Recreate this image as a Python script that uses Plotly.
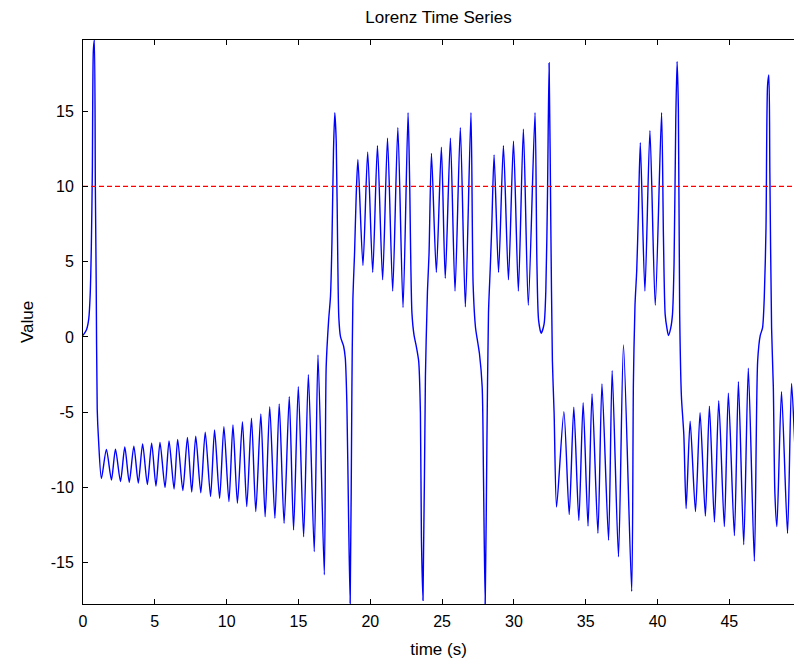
import plotly.graph_objects as go

# ---- data (time in s, value) ----
# initial excursion
t_start = [0.0, 0.25, 0.4, 0.5, 0.58, 0.65, 0.72, 0.79, 0.86, 0.92, 0.99, 1.08]
v_start = [0.1, 0.5, 1.2, 2.8, 6.0, 11.0, 19.0, 19.73, 10.0, 3.5, -4.8, -6.8]

# first lower-lobe spiral (alternating trough / peak)
t_low1 = [1.28, 1.63, 1.98, 2.26, 2.61, 2.91, 3.22, 3.54, 3.85, 4.15, 4.48, 4.78,
          5.08, 5.36, 5.71, 5.99, 6.34, 6.59, 6.95, 7.27, 7.57, 7.85, 8.2, 8.51,
          8.88, 9.16, 9.51, 9.81, 10.16, 10.44, 10.75, 11.1, 11.4, 11.73, 12.03,
          12.38, 12.68, 13.0, 13.36, 13.66, 14.0, 14.36, 14.66, 14.99, 15.36,
          15.69, 16.1, 16.36, 16.8]
v_low1 = [-9.4, -7.47, -9.5, -7.45, -9.6, -7.3, -9.65, -7.25, -9.7, -7.1, -9.8, -7.05,
          -9.9, -7.0, -10.0, -6.9, -10.1, -6.8, -10.2, -6.67, -10.3, -6.6, -10.35, -6.32,
          -10.6, -6.18, -10.72, -5.96, -10.94, -5.85, -11.05, -5.63, -11.27, -5.4, -11.6,
          -5.12, -11.94, -4.63, -12.05, -4.45, -12.38, -3.96, -12.82, -3.3, -13.27,
          -2.5, -14.26, -1.2, -15.8]

# switch to upper lobe
t_sw1 = [16.93, 17.1, 17.23, 17.33, 17.44, 17.53, 17.63, 17.74, 17.81, 17.93, 18.14,
         18.26, 18.37, 18.49, 18.6, 18.72, 18.79, 18.91, 19.02]
v_sw1 = [-2.0, 1.1, 2.7, 6.2, 12.4, 14.9, 13.0, 5.0, 1.3, 0.0, -0.6,
         -1.4, -4.4, -12.0, -17.7, -3.5, 2.5, 5.7, 9.4]

# upper-lobe oscillations
t_up1 = [19.14, 19.49, 19.82, 20.17, 20.5, 20.86, 21.2, 21.56, 21.92, 22.28, 22.63]
v_up1 = [11.8, 4.75, 12.3, 4.3, 12.7, 3.8, 13.2, 3.05, 13.9, 1.95, 14.9]

t_sw2 = [22.74, 22.9, 23.05, 23.2, 23.37, 23.49, 23.56, 23.67, 23.84, 23.98, 24.09]
v_sw2 = [10.4, 1.6, 0.1, -0.6, -1.6, -5.0, -13.3, -17.5, -2.6, 3.0, 5.5]

t_up2 = [24.26, 24.6, 24.95, 25.22, 25.58, 25.9, 26.27, 26.62, 27.01]
v_up2 = [12.2, 4.3, 12.6, 3.9, 13.2, 3.05, 13.9, 2.0, 14.9]

t_sw3 = [27.16, 27.33, 27.49, 27.6, 27.79, 27.88, 28.0, 28.12, 28.23, 28.35, 28.46]
v_sw3 = [3.5, 0.6, -0.4, -1.1, -3.3, -9.1, -17.74, -7.0, 1.6, 4.5, 7.4]

t_up3 = [28.62, 28.93, 29.27, 29.62, 29.97, 30.31, 30.66, 31.0, 31.47]
v_up3 = [12.1, 4.3, 12.7, 3.8, 13.0, 3.05, 13.8, 2.1, 14.9]

t_sw4 = [31.6, 31.72, 31.9, 32.1, 32.22, 32.34, 32.45, 32.57, 32.68, 32.8]
v_sw4 = [5.0, 1.1, 0.25, 0.85, 3.0, 9.6, 18.2, 7.4, -1.6, -5.1]

# second lower-lobe spiral
t_low2 = [32.97, 33.48, 33.85, 34.17, 34.52, 34.82, 35.16, 35.44, 35.85, 36.13,
          36.59, 36.84, 37.28, 37.63, 38.2]
v_low2 = [-11.3, -4.96, -11.8, -4.67, -12.2, -4.36, -12.56, -3.79, -13.04, -3.12,
          -13.5, -2.24, -14.6, -0.53, -16.9]

t_sw5 = [38.32, 38.43, 38.55, 38.66, 38.8, 39.12, 39.47, 39.84, 40.28, 40.41, 40.53,
         40.65, 40.76, 40.92, 41.04, 41.15, 41.27, 41.36, 41.45, 41.54, 41.66, 41.83]
v_sw5 = [-3.0, 2.1, 4.4, 8.0, 12.9, 3.05, 13.7, 2.1, 14.9, 6.7, 1.5,
         0.6, 0.1, 0.6, 1.5, 4.9, 14.5, 18.3, 15.2, 1.6, -3.9, -6.5]

t_low3 = [41.99, 42.27, 42.64, 42.96, 43.33, 43.61, 43.96, 44.26, 44.65, 44.93,
          45.35, 45.63, 46.0, 46.32, 46.74]
v_low3 = [-11.4, -5.6, -11.6, -5.03, -11.9, -4.6, -12.3, -4.23, -12.6, -3.74,
          -13.2, -2.97, -13.8, -2.08, -14.9]

t_end = [46.97, 47.15, 47.31, 47.43, 47.55, 47.66, 47.75, 47.82, 47.94, 48.06, 48.17,
         48.31, 48.63, 49.05, 49.33, 49.65, 50.0]
v_end = [-1.6, 0.1, 0.6, 2.6, 7.2, 16.7, 17.4, 10.9, 0.6, -3.3, -10.4,
         -12.6, -3.63, -13.05, -3.08, -9.0, -13.3]

threshold = 10
x_ticks = [0, 5, 10, 15, 20, 25, 30, 35, 40, 45]
y_ticks = [-15, -10, -5, 0, 5, 10, 15]

time = (t_start + t_low1 + t_sw1 + t_up1 + t_sw2 + t_up2 + t_sw3 + t_up3 + t_sw4
        + t_low2 + t_sw5 + t_low3 + t_end)
value = (v_start + v_low1 + v_sw1 + v_up1 + v_sw2 + v_up2 + v_sw3 + v_up3 + v_sw4
         + v_low2 + v_sw5 + v_low3 + v_end)

FONT = "Liberation Sans, Arial, sans-serif"

fig = go.Figure()
fig.add_trace(go.Scatter(
    x=time, y=value, mode="lines",
    line=dict(color="#0000FF", width=1.4, shape="spline", smoothing=0.7),
    showlegend=False, hoverinfo="skip",
))
fig.add_trace(go.Scatter(
    x=[0, 50], y=[threshold, threshold], mode="lines",
    line=dict(color="#FF0000", width=1.2, dash="5px,3px"),
    showlegend=False, hoverinfo="skip",
))

fig.update_layout(
    width=794, height=659,
    margin=dict(l=83, r=0, t=40, b=55),
    paper_bgcolor="white", plot_bgcolor="white",
    font=dict(family=FONT, size=16, color="black"),
    title=dict(text="Lorenz Time Series", x=0.5, xref="paper", xanchor="center",
               y=1 - 17 / 659, yref="container", yanchor="middle",
               font=dict(family=FONT, size=17, color="black")),
)
fig.update_xaxes(
    range=[0, 49.5], tickvals=x_ticks, ticktext=[str(v) for v in x_ticks],
    ticks="inside", ticklen=5, tickcolor="black", tickwidth=1,
    showline=True, linecolor="black", linewidth=1, mirror="allticks",
    showgrid=False, zeroline=False, ticklabelstandoff=3,
    title=dict(text="time (s)", standoff=13, font=dict(size=17)),
    tickfont=dict(size=16),
)
fig.update_yaxes(
    range=[-17.74, 19.73], tickvals=y_ticks, ticktext=[str(v) for v in y_ticks],
    ticks="inside", ticklen=5, tickcolor="black", tickwidth=1,
    showline=True, linecolor="black", linewidth=1, mirror=False,
    showgrid=False, zeroline=False, ticklabelstandoff=5,
    title=dict(text="Value", standoff=12, font=dict(size=17)),
    tickfont=dict(size=16),
)

fig.write_html("out.html")
